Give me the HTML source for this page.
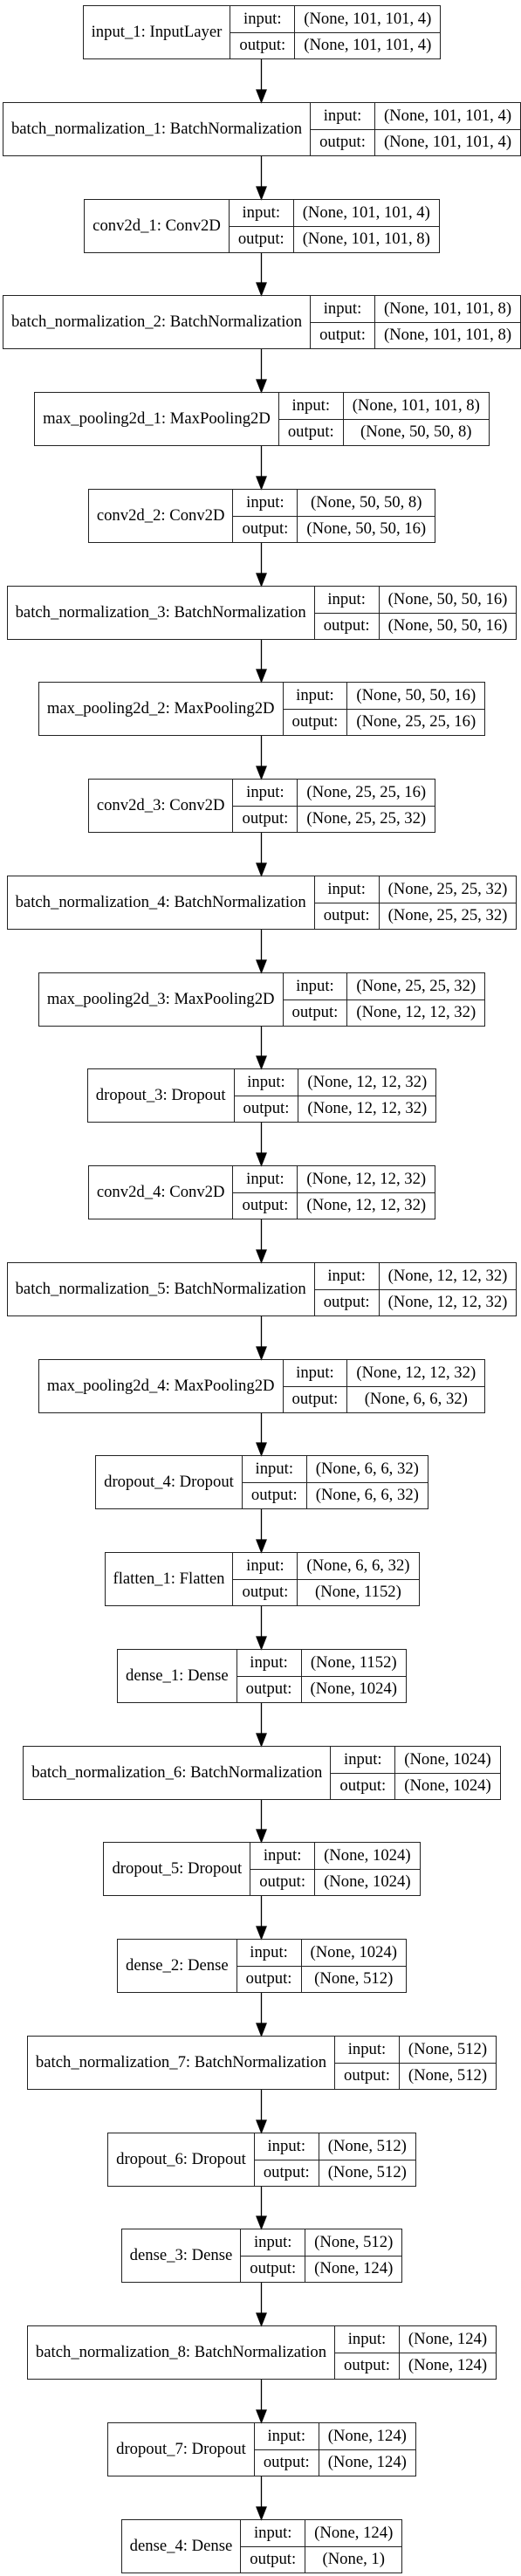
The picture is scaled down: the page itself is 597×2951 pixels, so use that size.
<!DOCTYPE html>
<html><head><meta charset="utf-8"><style>
html,body{margin:0;padding:0;background:#fff;}
body{width:597px;height:2951px;position:relative;overflow:hidden;font-family:"Liberation Serif",serif;font-size:18.67px;color:#000;}
.n{position:absolute;left:0;width:600px;text-align:center;height:62px;}
table{display:inline-table;border-collapse:collapse;height:62px;}
td{border:1.3px solid #222;padding:0 10px;white-space:nowrap;height:29px;line-height:20px;text-align:center;}
td.l{padding:0 9px;}
svg{position:absolute;left:0;top:0;}
</style></head><body>
<svg width="597" height="2951" viewBox="0 0 597 2951">
<g stroke="#000" stroke-width="1.3" fill="#000">
<path d="M299.5 67V103M299.5 178V214M299.5 289V324M299.5 399V435M299.5 510V546M299.5 621V657M299.5 732V767M299.5 842V878M299.5 953V989M299.5 1064V1100M299.5 1175V1210M299.5 1285V1321M299.5 1396V1432M299.5 1507V1543M299.5 1618V1653M299.5 1728V1764M299.5 1839V1875M299.5 1950V1986M299.5 2061V2096M299.5 2171V2207M299.5 2282V2318M299.5 2393V2429M299.5 2504V2539M299.5 2614V2650M299.5 2725V2761M299.5 2836V2872" fill="none"/>
<path d="M294 103L305 103L299.5 117Z M294 214L305 214L299.5 228Z M294 324L305 324L299.5 338Z M294 435L305 435L299.5 449Z M294 546L305 546L299.5 560Z M294 657L305 657L299.5 671Z M294 767L305 767L299.5 781Z M294 878L305 878L299.5 892Z M294 989L305 989L299.5 1003Z M294 1100L305 1100L299.5 1114Z M294 1210L305 1210L299.5 1224Z M294 1321L305 1321L299.5 1335Z M294 1432L305 1432L299.5 1446Z M294 1543L305 1543L299.5 1557Z M294 1653L305 1653L299.5 1667Z M294 1764L305 1764L299.5 1778Z M294 1875L305 1875L299.5 1889Z M294 1986L305 1986L299.5 2000Z M294 2096L305 2096L299.5 2110Z M294 2207L305 2207L299.5 2221Z M294 2318L305 2318L299.5 2332Z M294 2429L305 2429L299.5 2443Z M294 2539L305 2539L299.5 2553Z M294 2650L305 2650L299.5 2664Z M294 2761L305 2761L299.5 2775Z M294 2872L305 2872L299.5 2886Z"/>
</g></svg>
<div class="n" style="top:6px"><table><tr><td class="l" rowspan="2">input_1: InputLayer</td><td>input:</td><td>(None, 101, 101, 4)</td></tr><tr><td>output:</td><td>(None, 101, 101, 4)</td></tr></table></div>
<div class="n" style="top:117px"><table><tr><td class="l" rowspan="2">batch_normalization_1: BatchNormalization</td><td>input:</td><td>(None, 101, 101, 4)</td></tr><tr><td>output:</td><td>(None, 101, 101, 4)</td></tr></table></div>
<div class="n" style="top:228px"><table><tr><td class="l" rowspan="2">conv2d_1: Conv2D</td><td>input:</td><td>(None, 101, 101, 4)</td></tr><tr><td>output:</td><td>(None, 101, 101, 8)</td></tr></table></div>
<div class="n" style="top:338px"><table><tr><td class="l" rowspan="2">batch_normalization_2: BatchNormalization</td><td>input:</td><td>(None, 101, 101, 8)</td></tr><tr><td>output:</td><td>(None, 101, 101, 8)</td></tr></table></div>
<div class="n" style="top:449px"><table><tr><td class="l" rowspan="2">max_pooling2d_1: MaxPooling2D</td><td>input:</td><td>(None, 101, 101, 8)</td></tr><tr><td>output:</td><td>(None, 50, 50, 8)</td></tr></table></div>
<div class="n" style="top:560px"><table><tr><td class="l" rowspan="2">conv2d_2: Conv2D</td><td>input:</td><td>(None, 50, 50, 8)</td></tr><tr><td>output:</td><td>(None, 50, 50, 16)</td></tr></table></div>
<div class="n" style="top:671px"><table><tr><td class="l" rowspan="2">batch_normalization_3: BatchNormalization</td><td>input:</td><td>(None, 50, 50, 16)</td></tr><tr><td>output:</td><td>(None, 50, 50, 16)</td></tr></table></div>
<div class="n" style="top:781px"><table><tr><td class="l" rowspan="2">max_pooling2d_2: MaxPooling2D</td><td>input:</td><td>(None, 50, 50, 16)</td></tr><tr><td>output:</td><td>(None, 25, 25, 16)</td></tr></table></div>
<div class="n" style="top:892px"><table><tr><td class="l" rowspan="2">conv2d_3: Conv2D</td><td>input:</td><td>(None, 25, 25, 16)</td></tr><tr><td>output:</td><td>(None, 25, 25, 32)</td></tr></table></div>
<div class="n" style="top:1003px"><table><tr><td class="l" rowspan="2">batch_normalization_4: BatchNormalization</td><td>input:</td><td>(None, 25, 25, 32)</td></tr><tr><td>output:</td><td>(None, 25, 25, 32)</td></tr></table></div>
<div class="n" style="top:1114px"><table><tr><td class="l" rowspan="2">max_pooling2d_3: MaxPooling2D</td><td>input:</td><td>(None, 25, 25, 32)</td></tr><tr><td>output:</td><td>(None, 12, 12, 32)</td></tr></table></div>
<div class="n" style="top:1224px"><table><tr><td class="l" rowspan="2">dropout_3: Dropout</td><td>input:</td><td>(None, 12, 12, 32)</td></tr><tr><td>output:</td><td>(None, 12, 12, 32)</td></tr></table></div>
<div class="n" style="top:1335px"><table><tr><td class="l" rowspan="2">conv2d_4: Conv2D</td><td>input:</td><td>(None, 12, 12, 32)</td></tr><tr><td>output:</td><td>(None, 12, 12, 32)</td></tr></table></div>
<div class="n" style="top:1446px"><table><tr><td class="l" rowspan="2">batch_normalization_5: BatchNormalization</td><td>input:</td><td>(None, 12, 12, 32)</td></tr><tr><td>output:</td><td>(None, 12, 12, 32)</td></tr></table></div>
<div class="n" style="top:1557px"><table><tr><td class="l" rowspan="2">max_pooling2d_4: MaxPooling2D</td><td>input:</td><td>(None, 12, 12, 32)</td></tr><tr><td>output:</td><td>(None, 6, 6, 32)</td></tr></table></div>
<div class="n" style="top:1667px"><table><tr><td class="l" rowspan="2">dropout_4: Dropout</td><td>input:</td><td>(None, 6, 6, 32)</td></tr><tr><td>output:</td><td>(None, 6, 6, 32)</td></tr></table></div>
<div class="n" style="top:1778px"><table><tr><td class="l" rowspan="2">flatten_1: Flatten</td><td>input:</td><td>(None, 6, 6, 32)</td></tr><tr><td>output:</td><td>(None, 1152)</td></tr></table></div>
<div class="n" style="top:1889px"><table><tr><td class="l" rowspan="2">dense_1: Dense</td><td>input:</td><td>(None, 1152)</td></tr><tr><td>output:</td><td>(None, 1024)</td></tr></table></div>
<div class="n" style="top:2000px"><table><tr><td class="l" rowspan="2">batch_normalization_6: BatchNormalization</td><td>input:</td><td>(None, 1024)</td></tr><tr><td>output:</td><td>(None, 1024)</td></tr></table></div>
<div class="n" style="top:2110px"><table><tr><td class="l" rowspan="2">dropout_5: Dropout</td><td>input:</td><td>(None, 1024)</td></tr><tr><td>output:</td><td>(None, 1024)</td></tr></table></div>
<div class="n" style="top:2221px"><table><tr><td class="l" rowspan="2">dense_2: Dense</td><td>input:</td><td>(None, 1024)</td></tr><tr><td>output:</td><td>(None, 512)</td></tr></table></div>
<div class="n" style="top:2332px"><table><tr><td class="l" rowspan="2">batch_normalization_7: BatchNormalization</td><td>input:</td><td>(None, 512)</td></tr><tr><td>output:</td><td>(None, 512)</td></tr></table></div>
<div class="n" style="top:2443px"><table><tr><td class="l" rowspan="2">dropout_6: Dropout</td><td>input:</td><td>(None, 512)</td></tr><tr><td>output:</td><td>(None, 512)</td></tr></table></div>
<div class="n" style="top:2553px"><table><tr><td class="l" rowspan="2">dense_3: Dense</td><td>input:</td><td>(None, 512)</td></tr><tr><td>output:</td><td>(None, 124)</td></tr></table></div>
<div class="n" style="top:2664px"><table><tr><td class="l" rowspan="2">batch_normalization_8: BatchNormalization</td><td>input:</td><td>(None, 124)</td></tr><tr><td>output:</td><td>(None, 124)</td></tr></table></div>
<div class="n" style="top:2775px"><table><tr><td class="l" rowspan="2">dropout_7: Dropout</td><td>input:</td><td>(None, 124)</td></tr><tr><td>output:</td><td>(None, 124)</td></tr></table></div>
<div class="n" style="top:2886px"><table><tr><td class="l" rowspan="2">dense_4: Dense</td><td>input:</td><td>(None, 124)</td></tr><tr><td>output:</td><td>(None, 1)</td></tr></table></div>
</body></html>
